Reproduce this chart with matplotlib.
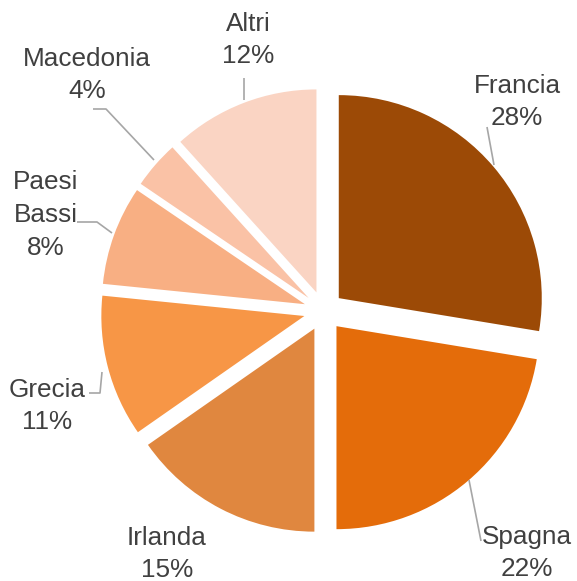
import matplotlib
matplotlib.use('Agg')
import matplotlib.pyplot as plt

paesi = ['Francia', 'Spagna', 'Irlanda', 'Grecia', 'Paesi\nBassi', 'Macedonia', 'Altri']
quote = [27.6, 22.4, 15.3, 11.3, 7.9, 3.8, 11.7]
colori = ['#9C4A06', '#E46C0A', '#E0873F', '#F79646', '#F8AF83', '#FAC2A6', '#FAD4C3']

# layout in pixel (origine in alto a sinistra)
CX, CY, R = 323.6, 311.0, 203.0
pos_etichette = [(517, 102), (527, 553), (167, 554), (47, 406), (46, 215), (87, 75), (248, 40)]
linee_guida = [
    [(487, 127), (494, 165)],
    [(469, 480), (481, 541)],
    [],
    [(89, 393), (100, 393), (102, 372)],
    [(77, 222), (97, 222), (112, 233)],
    [(93, 109), (106, 109), (154, 160)],
    [(244, 78), (244, 100)],
]


def px(x, y):
    return (x - CX) / R, (CY - y) / R


plt.rcParams['font.family'] = ['Liberation Sans', 'DejaVu Sans']

fig = plt.figure(figsize=(5.77, 5.81), dpi=100)
ax = fig.add_axes([0, 0, 1, 1])

ax.pie(quote, colors=colori, startangle=90, counterclock=False,
       explode=[0.098] * len(quote), radius=1,
       wedgeprops={'linewidth': 0})

for seg in linee_guida:
    if not seg:
        continue
    xs = [px(a, b)[0] for a, b in seg]
    ys = [px(a, b)[1] for a, b in seg]
    ax.plot(xs, ys, color='#A6A6A6', lw=1.2, solid_capstyle='butt')

for nome, q, (x, y) in zip(paesi, quote, pos_etichette):
    tx, ty = px(x, y)
    ax.text(tx, ty, '%s\n%.0f%%' % (nome, q), ha='center', va='center',
            multialignment='center', fontsize=18.8, color='#404040',
            linespacing=1.45)

ax.set_xlim(-CX / R, (577 - CX) / R)
ax.set_ylim((CY - 581) / R, CY / R)
ax.set_aspect('auto')
ax.axis('off')

fig.savefig('out.png', dpi=100)
